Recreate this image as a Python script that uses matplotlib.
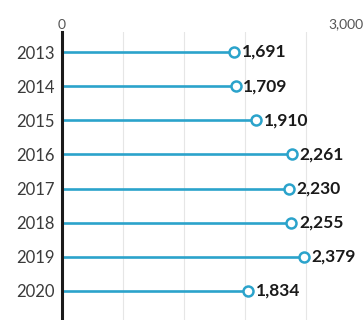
import matplotlib
matplotlib.use("Agg")
import matplotlib.pyplot as plt
import matplotlib.transforms as mtransforms

years = ["2013", "2014", "2015", "2016", "2017", "2018", "2019", "2020"]
values = [1691, 1709, 1910, 2261, 2230, 2255, 2379, 1834]
grid_ticks = [600, 1200, 1800, 2400]
axis_labels = ["0", "3,000"]
axis_max = 3000

line_color = "#2ba3cb"
text_color = "#1a1a1a"
fam = ["Lato", "DejaVu Sans"]

fig = plt.figure(figsize=(3.64, 3.20), dpi=100)
ax = fig.add_axes([62/364, 0.0, (367-62)/364, 288/320])

ypos = list(range(len(years)))
for g in grid_ticks:
    ax.axvline(g, color="#e6e6e6", lw=0.8, zorder=0)

ax.hlines(ypos, 0, values, color=line_color, lw=1.9, zorder=2)
ax.plot(values, ypos, "o", ms=7.2, mfc="white", mec=line_color, mew=1.8, zorder=3)

off = mtransforms.offset_copy(ax.transData, fig=fig, x=5.5, y=0, units="points")
for v, y in zip(values, ypos):
    ax.text(v, y, f"{v:,}", transform=off, ha="left", va="center",
            fontsize=12.5, fontweight="bold", family=fam, color=text_color)

ax.set_xlim(0, axis_max)
ax.set_ylim(len(years) - 1 + 0.85, -0.586)
ax.set_yticks(ypos)
ax.set_yticklabels(years, fontsize=12, fontweight="normal", family=fam, color="#3a3a3a")
ax.tick_params(axis="y", length=0, pad=5)
ax.set_xticks([])

for s in ["top", "right", "bottom"]:
    ax.spines[s].set_visible(False)
ax.spines["left"].set_linewidth(2.2)
ax.spines["left"].set_color("#1a1a1a")

btf = mtransforms.blended_transform_factory(ax.transData, ax.transAxes)
ax.text(0, 1.0, axis_labels[0], transform=mtransforms.offset_copy(btf, fig=fig, x=0, y=1, units="points"),
        ha="center", va="bottom", fontsize=10, family=fam, color="#555555")
lab_off = mtransforms.offset_copy(btf, fig=fig, x=-15, y=1, units="points")
ax.text(axis_max, 1.0, axis_labels[1], transform=lab_off,
        ha="center", va="bottom", fontsize=10, family=fam, color="#555555")

fig.savefig("out.png", dpi=100, facecolor="white")
